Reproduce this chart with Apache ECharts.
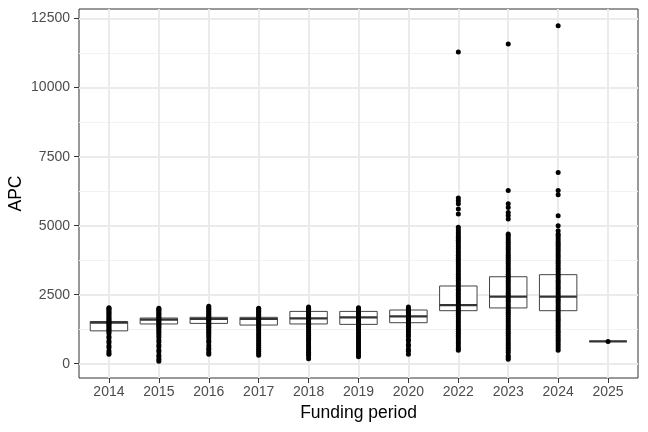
<!DOCTYPE html>
<html>
<head>
<meta charset="utf-8">
<script src="https://cdn.jsdelivr.net/npm/echarts@6/dist/echarts.min.js"></script>
<style>
  html, body { margin: 0; padding: 0; background: #fff; }
  #chart { width: 648px; height: 432px; }
</style>
</head>
<body>
<div id="chart"></div>
<script>
// funding periods on the x axis (2021 has no data)
var years = ['2014', '2015', '2016', '2017', '2018', '2019', '2020', '2022', '2023', '2024', '2025'];

// box statistics per period
var boxQ1     = [1190, 1440, 1460, 1400, 1440, 1425, 1485, 1920, 2020, 1920, 808];
var boxMedian = [1490, 1600, 1620, 1620, 1640, 1680, 1715, 2125, 2430, 2430, 808];
var boxQ3     = [1530, 1655, 1680, 1680, 1895, 1895, 1945, 2815, 3150, 3225, 808];

// individual APC values
var apc2014 = [345, 400, 470, 590, 650, 760, 820, 930, 990, 1090, 1150, 1200, 1250, 1300, 1350, 1400, 1440, 1480, 1520, 1560, 1610, 1660, 1710, 1760, 1810, 1860, 1910, 1960, 2000, 2030];
var apc2015 = [90, 160, 250, 320, 430, 500, 610, 680, 790, 860, 960, 1040, 1110, 1170, 1230, 1290, 1340, 1390, 1440, 1490, 1540, 1590, 1630, 1680, 1730, 1780, 1830, 1880, 1930, 1970, 2010];
var apc2016 = [345, 410, 500, 560, 660, 780, 840, 930, 1000, 1080, 1140, 1200, 1260, 1320, 1370, 1420, 1470, 1520, 1570, 1620, 1670, 1720, 1770, 1820, 1870, 1920, 1970, 2020, 2080];
var apc2017 = [310, 380, 450, 520, 590, 660, 730, 800, 870, 940, 1010, 1080, 1150, 1220, 1290, 1350, 1410, 1470, 1530, 1590, 1640, 1690, 1740, 1790, 1840, 1890, 1940, 1980, 2010];
var apc2018 = [180, 280, 340, 410, 470, 540, 610, 680, 750, 820, 890, 960, 1030, 1100, 1170, 1240, 1310, 1370, 1430, 1490, 1550, 1610, 1670, 1730, 1790, 1850, 1910, 1960, 2010, 2050];
var apc2019 = [250, 320, 390, 460, 530, 600, 670, 740, 810, 880, 950, 1020, 1090, 1160, 1230, 1300, 1360, 1420, 1480, 1540, 1600, 1660, 1720, 1780, 1840, 1900, 1950, 2000, 2030];
var apc2020 = [340, 450, 520, 640, 700, 820, 880, 990, 1060, 1150, 1220, 1290, 1350, 1400, 1450, 1500, 1550, 1600, 1650, 1700, 1750, 1800, 1850, 1900, 1950, 2000, 2050];
var apc2022 = [490, 560, 640, 720, 790, 870, 950, 1020, 1100, 1180, 1250, 1330, 1400, 1480, 1560, 1630, 1710, 1790, 1860, 1940, 2010, 2090, 2170, 2240, 2320, 2400, 2470, 2550, 2630, 2700, 2780, 2860, 2930, 3010, 3090, 3160, 3240, 3320, 3390, 3470, 3550, 3620, 3700, 3780, 3850, 3930, 4010, 4080, 4160, 4240, 4310, 4390, 4470, 4540, 4620, 4700, 4770, 4850, 4940, 5420, 5600, 5790, 5900, 6000, 11290];
var apc2023 = [165, 230, 300, 410, 480, 560, 640, 710, 790, 870, 940, 1020, 1100, 1170, 1250, 1330, 1400, 1480, 1560, 1630, 1710, 1790, 1860, 1940, 2020, 2090, 2170, 2250, 2320, 2400, 2480, 2550, 2630, 2710, 2780, 2860, 2940, 3010, 3090, 3170, 3240, 3320, 3400, 3470, 3550, 3630, 3700, 3780, 3860, 3930, 4010, 4090, 4160, 4240, 4320, 4400, 4480, 4560, 4640, 4700, 5240, 5370, 5480, 5660, 5790, 6270, 11580];
var apc2024 = [490, 570, 650, 720, 800, 880, 950, 1030, 1110, 1180, 1260, 1340, 1410, 1490, 1570, 1640, 1720, 1800, 1870, 1950, 2030, 2100, 2180, 2260, 2330, 2410, 2490, 2560, 2640, 2720, 2790, 2870, 2950, 3020, 3100, 3180, 3250, 3330, 3410, 3480, 3560, 3640, 3710, 3790, 3870, 3940, 4020, 4100, 4170, 4250, 4330, 4400, 4480, 4560, 4640, 4700, 4820, 5000, 5360, 6120, 6270, 6930, 12240];
var apc2025 = [808];

var majorTicks = [0, 2500, 5000, 7500, 10000, 12500];
var minorTicks = [1250, 3750, 6250, 8750, 11250];

var pointsByYear = [apc2014, apc2015, apc2016, apc2017, apc2018, apc2019, apc2020, apc2022, apc2023, apc2024, apc2025];

var boxData = [];
for (var i = 0; i < years.length; i++) {
  boxData.push([i, boxQ1[i], boxMedian[i], boxQ3[i]]);
}
var pointData = [];
var lo = Infinity, hi = -Infinity;
pointsByYear.forEach(function (vals, i) {
  vals.forEach(function (v) {
    pointData.push([i, v]);
    lo = Math.min(lo, v);
    hi = Math.max(hi, v);
  });
});
// ggplot style 5% expansion of the y range
var pad = (hi - lo) * 0.05;
var yMin = lo - pad;
var yMax = hi + pad;
var xPositions = years.map(function (y, i) { return i; });

var boxWidth = 0.75;
var font = "'Liberation Sans', Arial, sans-serif";
var gridColor = '#EBEBEB';

var chart = echarts.init(document.getElementById('chart'));

var option = {
  animation: false,
  grid: {
    left: 79,
    right: 10,
    top: 9,
    bottom: 54,
    outerBoundsMode: 'none',
    containLabel: false,
    show: true,
    borderColor: '#333333',
    borderWidth: 1,
    backgroundColor: '#fff'
  },
  xAxis: {
    type: 'value',
    min: -0.6,
    max: 10.6,
    name: 'Funding period',
    nameLocation: 'middle',
    nameGap: 24,
    nameTextStyle: { color: '#000', fontSize: 17.5, fontFamily: font },
    axisLine: { show: false, onZero: false },
    axisTick: { show: true, length: 5, customValues: xPositions,
                lineStyle: { color: '#333333', width: 1 } },
    axisLabel: {
      customValues: xPositions,
      margin: 7,
      color: '#4D4D4D',
      fontSize: 14,
      fontFamily: font,
      formatter: function (v) { return years[Math.round(v)]; }
    },
    splitLine: { show: true, lineStyle: { color: gridColor, width: 2 } }
  },
  yAxis: [
    {
      type: 'value',
      min: yMin,
      max: yMax,
      name: 'APC',
      nameLocation: 'middle',
      nameGap: 54,
      nameMoveOverlap: false,
      nameTextStyle: { color: '#000', fontSize: 17.5, fontFamily: font },
      axisLine: { show: false, onZero: false },
      axisTick: { show: true, length: 5, customValues: majorTicks,
                  lineStyle: { color: '#333333', width: 1 } },
      axisLabel: {
        customValues: majorTicks,
        margin: 9,
        color: '#4D4D4D',
        fontSize: 14,
        fontFamily: font,
        formatter: function (v) { return String(v); }
      },
      splitLine: { show: true, lineStyle: { color: gridColor, width: 2 } }
    },
    {
      // only used for the minor grid lines
      type: 'value',
      min: yMin,
      max: yMax,
      position: 'left',
      axisLine: { show: false, onZero: false },
      axisTick: { show: false, customValues: minorTicks },
      axisLabel: { show: false, customValues: minorTicks },
      splitLine: { show: true, lineStyle: { color: '#F2F2F2', width: 1 } }
    }
  ],
  series: [
    {
      type: 'custom',
      name: 'box',
      data: boxData,
      encode: { x: 0, y: [1, 2, 3] },
      z: 2,
      renderItem: function (params, api) {
        var x = api.value(0);
        var half = api.size([boxWidth, 0])[0] / 2;
        var top = api.coord([x, api.value(3)]);
        var bot = api.coord([x, api.value(1)]);
        var med = api.coord([x, api.value(2)]);
        return {
          type: 'group',
          children: [
            {
              type: 'rect',
              shape: { x: top[0] - half, y: top[1], width: half * 2, height: bot[1] - top[1] },
              style: { fill: '#fff', stroke: '#444444', lineWidth: 1 }
            },
            {
              type: 'line',
              shape: { x1: med[0] - half, y1: med[1], x2: med[0] + half, y2: med[1] },
              style: { stroke: '#333333', lineWidth: 2.2 }
            }
          ]
        };
      }
    },
    {
      type: 'scatter',
      name: 'APC',
      data: pointData,
      symbol: 'circle',
      symbolSize: 5,
      z: 3,
      itemStyle: { color: '#000', opacity: 1 }
    }
  ]
};

chart.setOption(option);
</script>
</body>
</html>
